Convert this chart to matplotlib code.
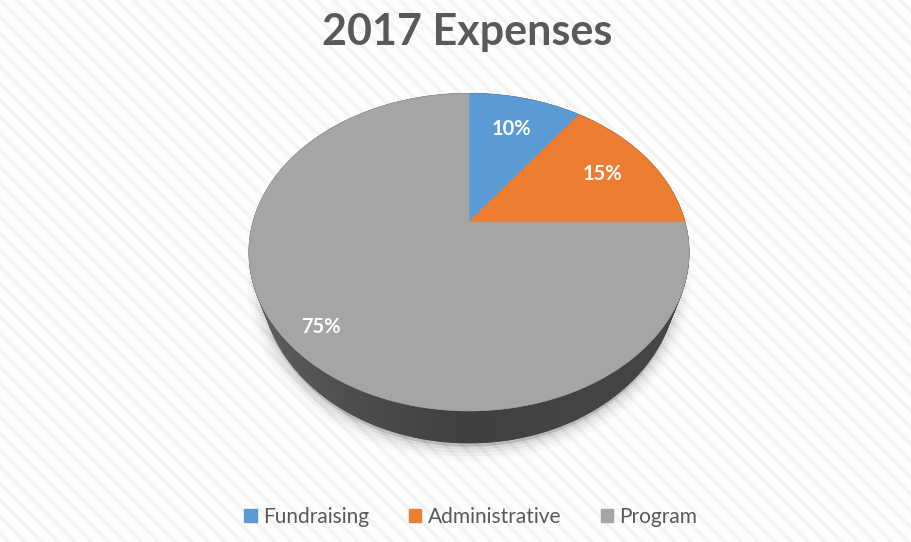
import numpy as np
import matplotlib.pyplot as plt
from matplotlib.patches import Polygon, Rectangle, Patch
from matplotlib.collections import PolyCollection

# chart data
categories = ["Fundraising", "Administrative", "Program"]
values = [10, 15, 75]
colors = ["#5b9bd5", "#ed7d31", "#a5a5a5"]
title = "2017 Expenses"

W, H = 911, 542
CX, CY = 469, 222        # pie centre on screen
RX, RY = 216, 153        # radii of the top face
K = 0.19                 # perspective strength
DEPTH = 26               # thickness of the pie
SHRINK = 0.945           # bottom face looks a bit narrower (perspective)
LABEL_R = [0.72, 0.74, 0.86]


def project(u, v, drop=0.0, q=1.0):
    s = 1.0 / (1.0 - K * v)
    return CX + RX * u * s * q, CY + RY * v * s + drop * s


def ring(theta, drop=0.0, r=1.0, q=1.0):
    u = r * np.sin(theta)
    v = -r * np.cos(theta)
    x, y = project(u, v, drop, q)
    return np.column_stack([x, y])


fig = plt.figure(figsize=(W / 100, H / 100), dpi=100)
fig.patch.set_facecolor("#fdfdfd")
ax = fig.add_axes([0, 0, 1, 1])
ax.set_xlim(0, W)
ax.set_ylim(H, 0)
ax.axis("off")

plt.rcParams["hatch.linewidth"] = 2.5
ax.add_patch(Rectangle((0, 0), W, H, facecolor="#fdfdfd", edgecolor="#f3f3f3",
                       hatch="\\\\", lw=0, zorder=0))

# soft shadow under the pie
t = np.linspace(0, 2 * np.pi, 400)
shadow = ring(t, drop=DEPTH + 3, q=SHRINK)
for lw, a in [(20, 0.02), (14, 0.03), (9, 0.04), (4, 0.05)]:
    ax.add_patch(Polygon(shadow, closed=True, facecolor="#000000", edgecolor="#000000",
                         alpha=a, lw=lw, joinstyle="round", zorder=1))

# side of the pie
t = np.linspace(0, 2 * np.pi, 721)
top = ring(t)
bot = ring(t, drop=DEPTH, q=SHRINK)
quads, qcol = [], []
for i in range(len(t) - 1):
    quads.append([top[i], top[i + 1], bot[i + 1], bot[i]])
    u = np.sin((t[i] + t[i + 1]) / 2)
    g = 0.25 + 0.14 * max(0.0, -u) ** 1.3 + 0.03 * max(0.0, u)
    qcol.append((g, g, g))
ax.add_collection(PolyCollection(quads, facecolors=qcol, edgecolors=qcol, lw=0.6, zorder=2))

# top face wedges
total = sum(values)
start = 0.0
for val, col, lr in zip(values, colors, LABEL_R):
    frac = val / total
    a0, a1 = start * 2 * np.pi, (start + frac) * 2 * np.pi
    arc = ring(np.linspace(a0, a1, 200))
    pts = np.vstack([[CX, CY], arc])
    ax.add_patch(Polygon(pts, closed=True, facecolor=col, edgecolor=col, lw=0.5, zorder=3))
    mid = (a0 + a1) / 2
    lx, ly = project(lr * np.sin(mid), -lr * np.cos(mid))
    ax.text(lx, ly, f"{val}%", color="white", fontsize=14.5, fontweight="bold",
            family="Lato", ha="center", va="center", zorder=4)
    start += frac

ax.text(467, 32, title, fontsize=31, fontweight="bold", family="Lato",
        color="#595959", ha="center", va="center")

handles = [Patch(facecolor=c, edgecolor=c) for c in colors]
fig.legend(handles, categories, loc="center", bbox_to_anchor=(471 / W, 1 - 517 / H),
           ncol=3, frameon=False, handlelength=0.6, handleheight=0.6,
           handletextpad=0.3, columnspacing=1.9,
           prop={"family": "Lato", "size": 15}, labelcolor="#595959")

plt.savefig("out.png", dpi=100, facecolor=fig.get_facecolor())
